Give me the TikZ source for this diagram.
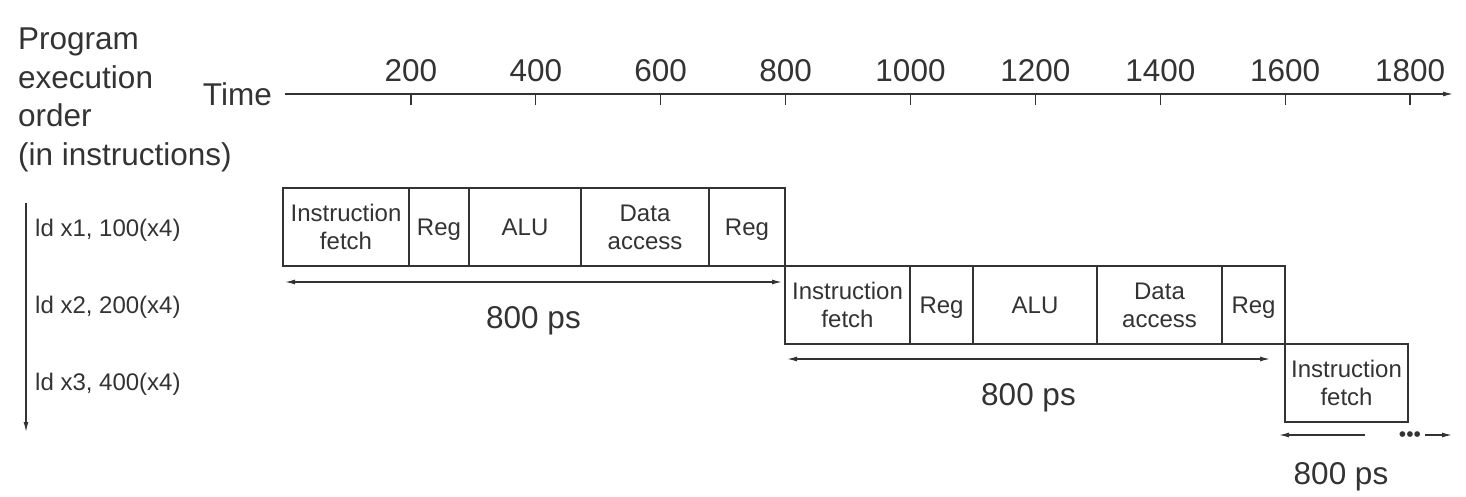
\documentclass[tikz,border=0pt]{standalone}
\usepackage{fontspec}
\setmainfont{Liberation Sans}
\usetikzlibrary{positioning,arrows.meta}
\definecolor{ink}{HTML}{333333}
\tikzset{
    stage/.style={draw=ink, line width=1.2pt, minimum height=78pt, inner sep=0pt, outer sep=0pt,
        align=center, text=ink, font=\fontsize{24}{28}\selectfont},
    flatstage/.style={stage, text depth=0pt},
    biglabel/.style={text=ink, inner sep=0pt, font=\fontsize{31.5}{38.5}\selectfont},
    rowlabel/.style={text=ink, inner sep=0pt, anchor=west, font=\fontsize{24}{28}\selectfont},
    thinline/.style={draw=ink, line width=1.3pt, >={Latex[length=10pt,width=5pt]}},
    spanarrow/.style={thinline, <->},
    oneway/.style={thinline, ->},
}
\begin{document}
\begin{tikzpicture}[x=1pt, y=-1pt]
    \useasboundingbox (0,0) rectangle (1466,496);

    % Titles on the left and the time axis
    \node[biglabel, align=left, anchor=north west] (order) at (18,28) {Program\\execution\\order\\(in instructions)};
    \node[biglabel, anchor=east] (time) at (272,94) {Time};
    \coordinate (t0) at (285,94);
    \coordinate (tend) at (1453,94);
    \draw[oneway] (t0) -- (tend);
    \foreach \t [count=\i] in {200,400,...,1800} {
        \draw[thinline] ({286+124.9*\i},94) -- ({286+124.9*\i},105);
        \node[biglabel, anchor=south] (tick\i) at ({286+124.9*\i},82) {\t};
    }

    % Instructions in program order
    \coordinate (ordtop) at (26,203);
    \coordinate (ordbot) at (26,432);
    \draw[oneway] (ordtop) -- (ordbot);
    \node[rowlabel] (ld1) at (35,230) {ld x1, 100(x4)};
    \node[rowlabel] (ld2) at (35,307) {ld x2, 200(x4)};
    \node[rowlabel] (ld3) at (35,384) {ld x3, 400(x4)};

    % First instruction
    \node[stage, minimum width=126pt, anchor=north west] (if1) at (283,188) {Instruction\\fetch};
    \node[flatstage, minimum width=60pt, right=0pt of if1] (rega1) {Reg};
    \node[flatstage, minimum width=112pt, right=0pt of rega1] (alu1) {ALU};
    \node[stage, minimum width=128pt, right=0pt of alu1] (mem1) {Data\\access};
    \node[flatstage, minimum width=76pt, right=0pt of mem1] (regb1) {Reg};

    % Second instruction
    \node[stage, minimum width=125pt, below right=0pt of regb1] (if2) {Instruction\\fetch};
    \node[flatstage, minimum width=63pt, right=0pt of if2] (rega2) {Reg};
    \node[flatstage, minimum width=124pt, right=0pt of rega2] (alu2) {ALU};
    \node[stage, minimum width=125pt, right=0pt of alu2] (mem2) {Data\\access};
    \node[flatstage, minimum width=63pt, right=0pt of mem2] (regb2) {Reg};

    % Third instruction
    \node[stage, minimum width=123pt, below right=0pt of regb2] (if3) {Instruction\\fetch};

    % Length of each instruction
    \draw[spanarrow] ([xshift=2pt,yshift=-16pt]if1.south west) -- ([xshift=-3pt,yshift=-16pt]regb1.south east)
        node[biglabel, midway, below=24pt] (span1) {800 ps};
    \draw[spanarrow] ([xshift=2pt,yshift=-15pt]if2.south west) -- ([xshift=-15pt,yshift=-15pt]regb2.south east)
        node[biglabel, midway, below=24pt] (span2) {800 ps};
    \draw[oneway] ([xshift=80pt,yshift=-13pt]if3.south west) -- ([xshift=-6pt,yshift=-13pt]if3.south west);
    \node[text=ink, inner sep=0pt, font=\fontsize{21}{21}\selectfont] (dots) at (1410,437) {•••};
    \coordinate (more) at (1452,435);
    \draw[oneway] ([xshift=4pt,yshift=2pt]dots.east) -- (more);
    \node[biglabel, anchor=north] (span3) at (1341,462) {800 ps};
\end{tikzpicture}
\end{document}
